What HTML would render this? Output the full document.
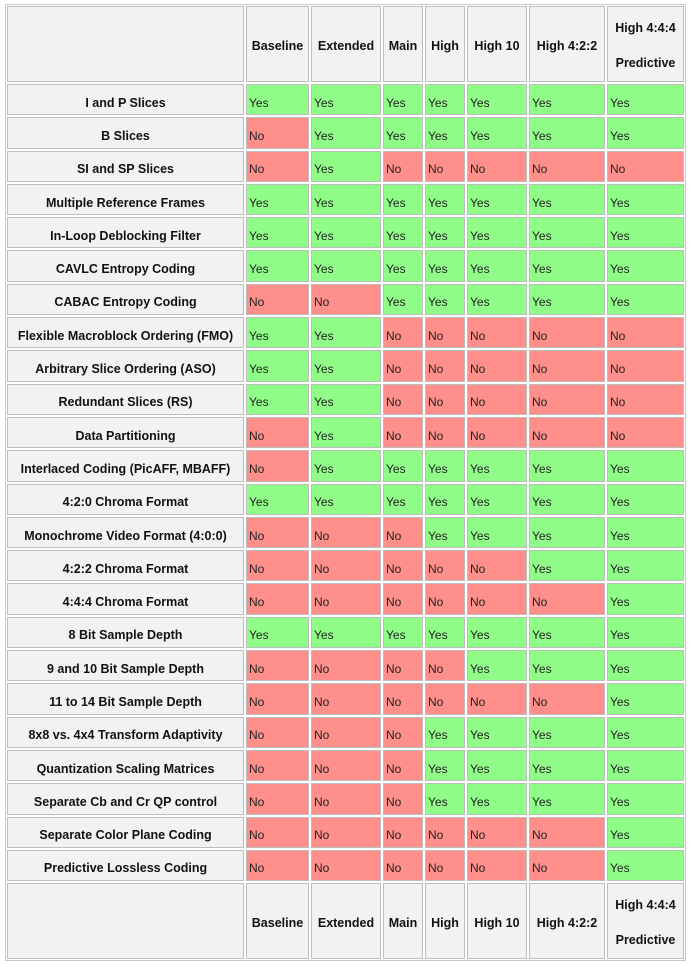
<!DOCTYPE html>
<html><head><meta charset="utf-8"><style>
body{margin:0;background:#fff;width:689px;height:964px;overflow:hidden}
.w{position:absolute;left:5px;top:4px;border:1px solid #c8c8c8}
table{border-collapse:separate;border-spacing:2px;table-layout:fixed;margin:-1px;font-family:"Liberation Sans",Arial,sans-serif;font-size:12px}
td{border:1px solid #bdbdbd;padding:6px 0 0 2px;height:24.4px;vertical-align:middle;box-sizing:border-box;overflow:hidden;white-space:nowrap;color:#222}
td.l{background:#f2f2f2;font-weight:bold;text-align:center;font-size:12.5px;padding-left:0;color:#111}
tr.h td{background:#f2f2f2;font-weight:bold;text-align:center;height:75px;padding:4px 0 0 0;line-height:35px;font-size:12.5px;color:#111}
tr.d td{height:31.3px}
.y{background:#90fd88}
.n{background:#fe8f8a}
</style></head><body><div class="w"><table>
<colgroup><col style="width:237px"><col style="width:63px"><col style="width:70px"><col style="width:40px"><col style="width:40px"><col style="width:60px"><col style="width:76px"><col style="width:77px"></colgroup>
<tr class="h"><td></td><td>Baseline</td><td>Extended</td><td>Main</td><td>High</td><td>High 10</td><td>High 4:2:2</td><td>High 4:4:4<br>Predictive</td></tr>
<tr class="d"><td class="l">I and P Slices</td><td class="y">Yes</td><td class="y">Yes</td><td class="y">Yes</td><td class="y">Yes</td><td class="y">Yes</td><td class="y">Yes</td><td class="y">Yes</td></tr>
<tr class="d"><td class="l">B Slices</td><td class="n">No</td><td class="y">Yes</td><td class="y">Yes</td><td class="y">Yes</td><td class="y">Yes</td><td class="y">Yes</td><td class="y">Yes</td></tr>
<tr class="d"><td class="l">SI and SP Slices</td><td class="n">No</td><td class="y">Yes</td><td class="n">No</td><td class="n">No</td><td class="n">No</td><td class="n">No</td><td class="n">No</td></tr>
<tr class="d"><td class="l">Multiple Reference Frames</td><td class="y">Yes</td><td class="y">Yes</td><td class="y">Yes</td><td class="y">Yes</td><td class="y">Yes</td><td class="y">Yes</td><td class="y">Yes</td></tr>
<tr class="d"><td class="l">In-Loop Deblocking Filter</td><td class="y">Yes</td><td class="y">Yes</td><td class="y">Yes</td><td class="y">Yes</td><td class="y">Yes</td><td class="y">Yes</td><td class="y">Yes</td></tr>
<tr class="d"><td class="l">CAVLC Entropy Coding</td><td class="y">Yes</td><td class="y">Yes</td><td class="y">Yes</td><td class="y">Yes</td><td class="y">Yes</td><td class="y">Yes</td><td class="y">Yes</td></tr>
<tr class="d"><td class="l">CABAC Entropy Coding</td><td class="n">No</td><td class="n">No</td><td class="y">Yes</td><td class="y">Yes</td><td class="y">Yes</td><td class="y">Yes</td><td class="y">Yes</td></tr>
<tr class="d"><td class="l">Flexible Macroblock Ordering (FMO)</td><td class="y">Yes</td><td class="y">Yes</td><td class="n">No</td><td class="n">No</td><td class="n">No</td><td class="n">No</td><td class="n">No</td></tr>
<tr class="d"><td class="l">Arbitrary Slice Ordering (ASO)</td><td class="y">Yes</td><td class="y">Yes</td><td class="n">No</td><td class="n">No</td><td class="n">No</td><td class="n">No</td><td class="n">No</td></tr>
<tr class="d"><td class="l">Redundant Slices (RS)</td><td class="y">Yes</td><td class="y">Yes</td><td class="n">No</td><td class="n">No</td><td class="n">No</td><td class="n">No</td><td class="n">No</td></tr>
<tr class="d"><td class="l">Data Partitioning</td><td class="n">No</td><td class="y">Yes</td><td class="n">No</td><td class="n">No</td><td class="n">No</td><td class="n">No</td><td class="n">No</td></tr>
<tr class="d"><td class="l">Interlaced Coding (PicAFF, MBAFF)</td><td class="n">No</td><td class="y">Yes</td><td class="y">Yes</td><td class="y">Yes</td><td class="y">Yes</td><td class="y">Yes</td><td class="y">Yes</td></tr>
<tr class="d"><td class="l">4:2:0 Chroma Format</td><td class="y">Yes</td><td class="y">Yes</td><td class="y">Yes</td><td class="y">Yes</td><td class="y">Yes</td><td class="y">Yes</td><td class="y">Yes</td></tr>
<tr class="d"><td class="l">Monochrome Video Format (4:0:0)</td><td class="n">No</td><td class="n">No</td><td class="n">No</td><td class="y">Yes</td><td class="y">Yes</td><td class="y">Yes</td><td class="y">Yes</td></tr>
<tr class="d"><td class="l">4:2:2 Chroma Format</td><td class="n">No</td><td class="n">No</td><td class="n">No</td><td class="n">No</td><td class="n">No</td><td class="y">Yes</td><td class="y">Yes</td></tr>
<tr class="d"><td class="l">4:4:4 Chroma Format</td><td class="n">No</td><td class="n">No</td><td class="n">No</td><td class="n">No</td><td class="n">No</td><td class="n">No</td><td class="y">Yes</td></tr>
<tr class="d"><td class="l">8 Bit Sample Depth</td><td class="y">Yes</td><td class="y">Yes</td><td class="y">Yes</td><td class="y">Yes</td><td class="y">Yes</td><td class="y">Yes</td><td class="y">Yes</td></tr>
<tr class="d"><td class="l">9 and 10 Bit Sample Depth</td><td class="n">No</td><td class="n">No</td><td class="n">No</td><td class="n">No</td><td class="y">Yes</td><td class="y">Yes</td><td class="y">Yes</td></tr>
<tr class="d"><td class="l">11 to 14 Bit Sample Depth</td><td class="n">No</td><td class="n">No</td><td class="n">No</td><td class="n">No</td><td class="n">No</td><td class="n">No</td><td class="y">Yes</td></tr>
<tr class="d"><td class="l">8x8 vs. 4x4 Transform Adaptivity</td><td class="n">No</td><td class="n">No</td><td class="n">No</td><td class="y">Yes</td><td class="y">Yes</td><td class="y">Yes</td><td class="y">Yes</td></tr>
<tr class="d"><td class="l">Quantization Scaling Matrices</td><td class="n">No</td><td class="n">No</td><td class="n">No</td><td class="y">Yes</td><td class="y">Yes</td><td class="y">Yes</td><td class="y">Yes</td></tr>
<tr class="d"><td class="l">Separate Cb and Cr QP control</td><td class="n">No</td><td class="n">No</td><td class="n">No</td><td class="y">Yes</td><td class="y">Yes</td><td class="y">Yes</td><td class="y">Yes</td></tr>
<tr class="d"><td class="l">Separate Color Plane Coding</td><td class="n">No</td><td class="n">No</td><td class="n">No</td><td class="n">No</td><td class="n">No</td><td class="n">No</td><td class="y">Yes</td></tr>
<tr class="d"><td class="l">Predictive Lossless Coding</td><td class="n">No</td><td class="n">No</td><td class="n">No</td><td class="n">No</td><td class="n">No</td><td class="n">No</td><td class="y">Yes</td></tr>
<tr class="h"><td></td><td>Baseline</td><td>Extended</td><td>Main</td><td>High</td><td>High 10</td><td>High 4:2:2</td><td>High 4:4:4<br>Predictive</td></tr>
</table></div></body></html>
